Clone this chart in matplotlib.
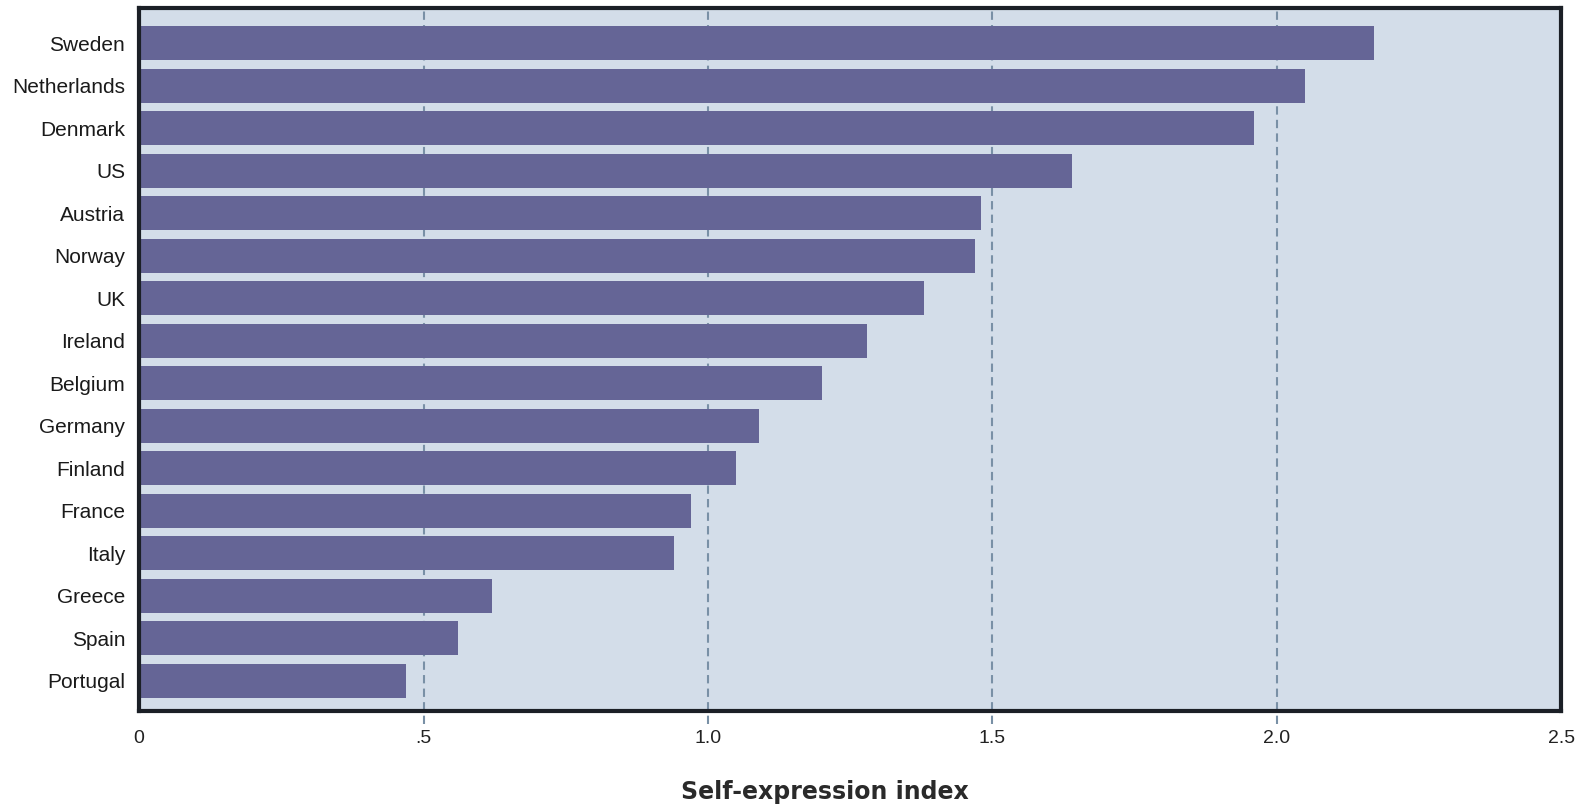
import numpy as np
import matplotlib.pyplot as plt

# Self-expression index by country
countries = ["Sweden", "Netherlands", "Denmark", "US", "Austria", "Norway", "UK",
             "Ireland", "Belgium", "Germany", "Finland", "France", "Italy",
             "Greece", "Spain", "Portugal"]
index_values = [2.17, 2.05, 1.96, 1.64, 1.48, 1.47, 1.38,
                1.28, 1.20, 1.09, 1.05, 0.97, 0.94,
                0.62, 0.56, 0.47]
tick_values = [0, 0.5, 1.0, 1.5, 2.0, 2.5]
tick_labels = ["0", ".5", "1.0", "1.5", "2.0", "2.5"]

label_font = ["Liberation Sans Narrow", "Liberation Sans", "DejaVu Sans"]

fig = plt.figure(figsize=(15.82, 8.08), dpi=100)
ax = fig.add_axes([0.0879, 0.120, 0.899, 0.870])
ax.set_facecolor("#d3dde9")

y = np.arange(len(countries))

# dashed gridlines, running a little below the bottom spine
for t in tick_values[1:-1]:
    ax.axvline(t, ymin=-0.018, ymax=1, color="#7990a6", lw=1.5,
               ls=(0, (4, 2.5)), zorder=1, clip_on=False)

ax.barh(y, index_values, height=0.8, color="#656596", zorder=2)

ax.set_xlim(0, 2.5)
ax.set_ylim(len(countries) - 0.29, -0.83)

ax.set_yticks(y)
ax.set_yticklabels(countries, family=label_font, fontsize=15, color="#1a1a1a")
ax.set_xticks(tick_values)
ax.set_xticklabels(tick_labels, family=label_font, fontsize=14, color="#222222")
ax.tick_params(axis="both", length=0)
ax.tick_params(axis="y", pad=10)
ax.tick_params(axis="x", pad=14)

for side in ["top", "right", "bottom", "left"]:
    ax.spines[side].set_color("#1b1f26")
    ax.spines[side].set_linewidth(3)

ax.set_xlabel("Self-expression index", family=["DejaVu Sans"],
              fontsize=17, fontweight="bold", color="#2a2a2a")
ax.xaxis.set_label_coords(0.482, -0.098)

fig.savefig("out.png", dpi=100)
